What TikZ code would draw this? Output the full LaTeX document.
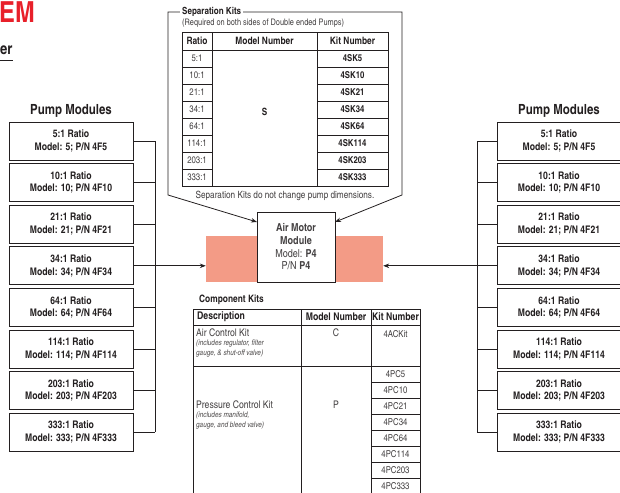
\documentclass[tikz,border=0pt]{standalone}
\usepackage{fontspec}
\setmainfont{texgyreheroscn}[Extension=.otf,UprightFont=*-regular,BoldFont=*-bold,
  ItalicFont=*-italic,BoldItalicFont=*-bolditalic]
\usetikzlibrary{arrows.meta,positioning}
\definecolor{ink}{HTML}{231F20}
\definecolor{salmon}{HTML}{F39B86}
\definecolor{titlered}{HTML}{E8202A}
\tikzset{
  pbox/.style={draw=ink,line width=0.9pt,align=center,text=ink,inner sep=0pt,
               font=\fontsize{10.5}{12.5}\selectfont\bfseries,
               minimum width=124pt,minimum height=38pt},
  head/.style={font=\fontsize{14}{16}\selectfont\bfseries,text=ink},
  bus/.style={draw=ink,line width=0.8pt},
  arr/.style={-{Stealth[length=6pt,width=4.5pt]},draw=ink,line width=0.8pt},
  cell/.style={draw=ink,line width=0.8pt,inner sep=0pt,minimum height=17pt,
               font=\fontsize{9.5}{11}\selectfont,text=ink!85},
  hcell/.style={cell,minimum height=18pt,font=\fontsize{10.2}{11}\selectfont\bfseries,text=ink},
  kcell/.style={cell,minimum width=49pt,minimum height=16pt},
  txt/.style={font=\fontsize{9}{11}\selectfont,text=ink!85},
  ctxt/.style={font=\fontsize{10.5}{12}\selectfont,text=ink!85},
  chead/.style={font=\fontsize{10.6}{12}\selectfont\bfseries,text=ink},
  note/.style={font=\fontsize{7.8}{10}\selectfont\itshape,text=ink!80,align=left},
}

\begin{document}
\begin{tikzpicture}[x=1pt,y=-1pt]
\useasboundingbox (0,0) rectangle (620,492);

% page title fragments
\node[anchor=base west,inner sep=0pt,text=titlered,font=\fontsize{29}{30}\selectfont\bfseries]
  (ttl) at (-1,23) {EM};
\node[anchor=base west,inner sep=0pt,text=ink,font=\fontsize{16}{18}\selectfont\bfseries]
  (sub) at (0,55) {er};
\draw[ink,line width=1pt] (0,61) -- (13,61);

% pump modules, left and right
\node[head] (lhead) at (71,111) {Pump Modules};
\node[head] (rhead) at (559,111) {Pump Modules};
\foreach \r [count=\i] in {5,10,21,34,64,114,203,333} {
  \node[pbox] (L\i) at (71,{141+41.6*(\i-1)}) {\r:1 Ratio\\Model: \r; P/N 4F\r};
  \node[pbox] (R\i) at (559,{141+41.6*(\i-1)}) {\r:1 Ratio\\Model: \r; P/N 4F\r};
}
\coordinate (lbus) at (155,0);
\coordinate (rbus) at (477,0);
\foreach \i in {1,...,8} {
  \draw[bus] (L\i.east) -- (L\i.east -| lbus);
  \draw[bus] (R\i.west) -- (R\i.west -| rbus);
}
\draw[bus] (L1.east -| lbus) -- (L8.east -| lbus);
\draw[bus] (R1.west -| rbus) -- (R8.west -| rbus);

% pump body and air motor
\node[fill=salmon,minimum width=177pt,minimum height=46pt,inner sep=0pt] (pump) at (294.5,259) {};
\node[draw=ink,fill=white,line width=0.9pt,minimum width=78pt,minimum height=70pt,
      align=center,text=ink!85,font=\fontsize{11}{12.7}\selectfont] (motor) at (296,247)
  {\textbf{Air Motor}\\\textbf{Module}\\Model: \textbf{P4}\\P/N \textbf{P4}};
\draw[arr] (L4.east) -- (L4.east -| pump.west);
\draw[arr] (R4.west) -- (R4.west -| pump.east);

% separation kits frame
\coordinate (ml) at (257,222);
\coordinate (mr) at (335,222);
\draw[{Stealth[length=6pt,width=4.5pt]}-{Stealth[length=6pt,width=4.5pt]},draw=ink,line width=0.8pt]
  (mr) -- (402,195) -- (402,12) -- (168,12) -- (168,195) -- (ml);
\node[anchor=west,fill=white,inner sep=2pt,text=ink,font=\fontsize{9.8}{11}\selectfont\bfseries]
  (skt) at (180,12) {Separation Kits};
\node[anchor=west,inner sep=0pt,txt] (skr) at (182,23) {(Required on both sides of Double ended Pumps)};

\node[hcell,minimum width=30pt] (skh1) at (197,41) {Ratio};
\node[hcell,minimum width=105pt] (skh2) at (264.5,41) {Model Number};
\node[hcell,minimum width=71pt] (skh3) at (352.5,41) {Kit Number};
\draw[ink,line width=0.8pt] (212,50) rectangle (317,186);
\foreach \r [count=\i] in {5,10,21,34,64,114,203,333} {
  \node[cell,minimum width=30pt] (sr\i) at (197,{50+17*\i-8.5}) {\r:1};
  \node[cell,minimum width=71pt,font=\fontsize{9.5}{11}\selectfont\bfseries,text=ink]
    (sk\i) at (352.5,{50+17*\i-8.5}) {4SK\r};
}
\node[font=\fontsize{10}{11}\selectfont\bfseries,text=ink] (sm) at (264.5,112) {S};
\node[txt,font=\fontsize{10}{11}\selectfont] (skn) at (285,196) {Separation Kits do not change pump dimensions.};

% component kits
\node[anchor=west,inner sep=0pt,text=ink,font=\fontsize{10.2}{11}\selectfont\bfseries]
  (ckt) at (199,300) {Component Kits};
\draw[ink,line width=0.8pt] (193,309) rectangle (420,500);
\draw[ink,line width=0.8pt] (193,325) -- (420,325) (193,366) -- (420,366)
  (301,309) -- (301,500) (371,309) -- (371,500);
\node[anchor=west,inner sep=0pt,chead] (ch1) at (197,317) {Description};
\node[chead] (ch2) at (336,317) {Model Number};
\node[chead] (ch3) at (395.5,317) {Kit Number};

\node[anchor=west,inner sep=0pt,ctxt] (ac) at (196,333) {Air Control Kit};
\node[anchor=north west,inner sep=0pt,note] (acn) at (196,340)
  {(includes regulator, filter\\gauge, \& shut-off valve)};
\node[ctxt] (acm) at (336,333) {C};
\node[cell,draw=none,font=\fontsize{9.5}{11}\selectfont] (ack) at (395.5,334) {4ACKit};

\node[anchor=west,inner sep=0pt,ctxt] (pc) at (196,405) {Pressure Control Kit};
\node[anchor=north west,inner sep=0pt,note] (pcn) at (196,412)
  {(includes manifold,\\gauge, and bleed valve)};
\node[ctxt] (pcm) at (336,405) {P};
\foreach \r [count=\i] in {5,10,21,34,64,114,203,333}
  \node[kcell] (pk\i) at (395.5,{366+16*\i-8}) {4PC\r};
\end{tikzpicture}
\end{document}
